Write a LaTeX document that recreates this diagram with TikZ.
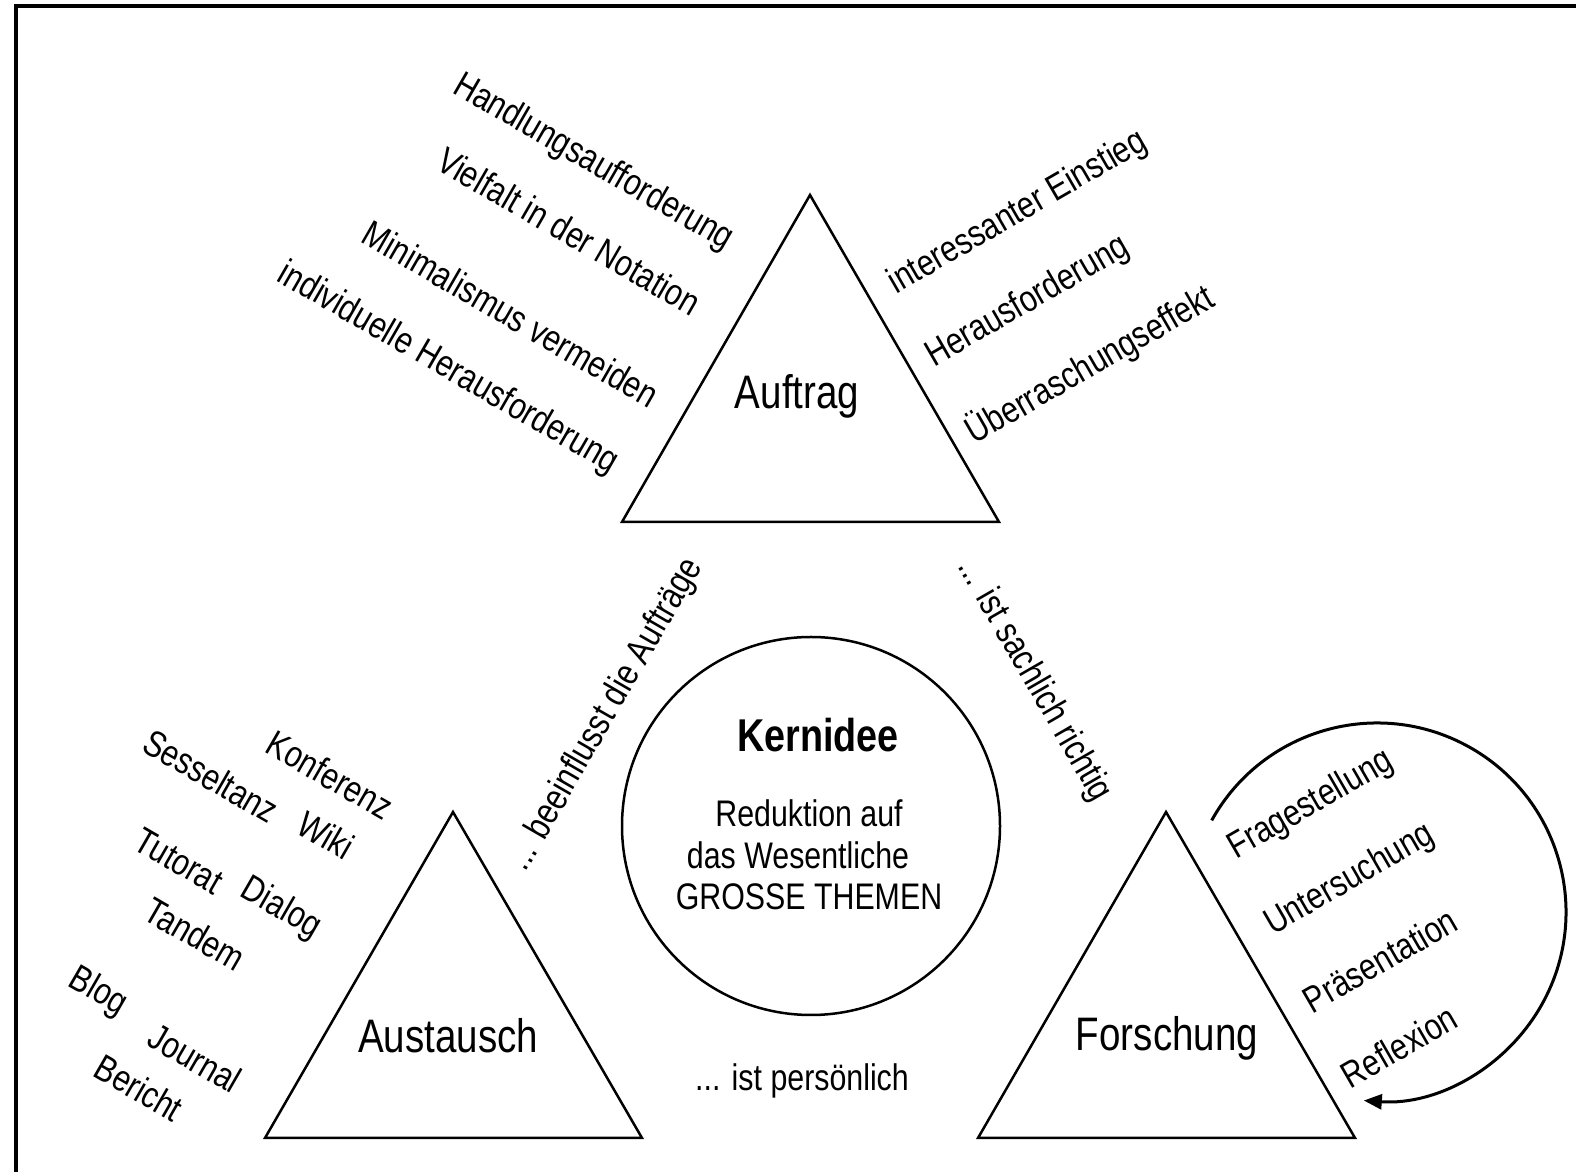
\documentclass[tikz,border=0pt]{standalone}
\usepackage{fontspec}
\setmainfont{Liberation Sans}[FakeStretch=0.82]
\usetikzlibrary{arrows.meta}
\begin{document}
\begin{tikzpicture}[x=1pt,y=1pt,
  small/.style={font=\fontsize{37}{44}\selectfont, inner sep=0pt},
  big/.style={font=\fontsize{47}{56}\selectfont, inner sep=0pt},
  tri/.style={line width=2.5pt, line join=miter},
  dn/.style={small, rotate=-30},
  up/.style={small, rotate=30}]
\useasboundingbox (0,0) rectangle (1576,1172);
% frame (top and left edges only)
\draw[line width=3.5pt] (16,0) -- (16,1166) -- (1576,1166);
% triangles
\coordinate (ta) at (810,977); \coordinate (tl) at (622,650); \coordinate (tr) at (999,650);
\coordinate (la) at (453,360); \coordinate (ll) at (265,34); \coordinate (lr) at (642,34);
\coordinate (ra) at (1166,360); \coordinate (rl) at (978,34); \coordinate (rr) at (1355,34);
\draw[tri] (ta) -- (tl) -- (tr) -- cycle;
\draw[tri] (la) -- (ll) -- (lr) -- cycle;
\draw[tri] (ra) -- (rl) -- (rr) -- cycle;
\node[big] (auftrag) at (797,776) {Auftrag};
\node[big] (austausch) at (448,136) {Austausch};
\node[big] (forschung) at (1167,134) {Forschung};
% circle
\node[circle, draw, line width=2.5pt, minimum size=378pt, inner sep=0pt] (kern) at (811,346) {};
\node[font=\fontsize{46}{54}\selectfont\bfseries, inner sep=0pt] (kt) at (818,437) {Kernidee};
\node[small] (k1) at (809,359) {Reduktion auf};
\node[small] (k2) at (798,317) {das Wesentliche};
\node[small] (k3) at (809,275) {GROSSE THEMEN};
% middle labels
\node[small] (m1) at (802,91) {... ist persönlich};
\node[small, rotate=60] (m2) at (606,457) {... beeinflusst die Aufträge};
\node[small, rotate=-60] (m3) at (1034,492) {... ist sachlich richtig};
% top left
\node[dn] (a1) at (593,1009) {Handlungsaufforderung};
\node[dn] (a2) at (569,941) {Vielfalt in der Notation};
\node[dn] (a3) at (511,858) {Minimalismus vermeiden};
\node[dn] (a4) at (448,803) {individuelle Herausforderung};
% top right
\node[up] (b1) at (1018,959) {interessanter Einstieg};
\node[up] (b2) at (1028,870) {Herausforderung};
\node[up] (b3) at (1090,807) {Überraschungseffekt};
% bottom left
\node[dn] (c1) at (330,397) {Konferenz};
\node[dn] (c2) at (211,396) {Sesseltanz};
\node[dn] (c3) at (326,337) {Wiki};
\node[dn] (c4) at (179,311) {Tutorat};
\node[dn] (c5) at (281,263) {Dialog};
\node[dn] (c6) at (195,238) {Tandem};
\node[dn] (c7) at (98,180) {Blog};
\node[dn] (c8) at (195,114) {Journal};
\node[dn] (c9) at (139,84) {Bericht};
% bottom right
\node[up] (d1) at (1311,367) {Fragestellung};
\node[up] (d2) at (1350,292) {Untersuchung};
\node[up] (d3) at (1380,212) {Präsentation};
\node[up] (d4) at (1399,126) {Reflexion};
% cycle arrow
\coordinate (cc) at (1377,260);
\draw[line width=3pt, -{Triangle[length=18pt,width=15pt]}] (cc) ++(151:189pt) arc[start angle=151, end angle=-94, radius=189pt];
\end{tikzpicture}
\end{document}
